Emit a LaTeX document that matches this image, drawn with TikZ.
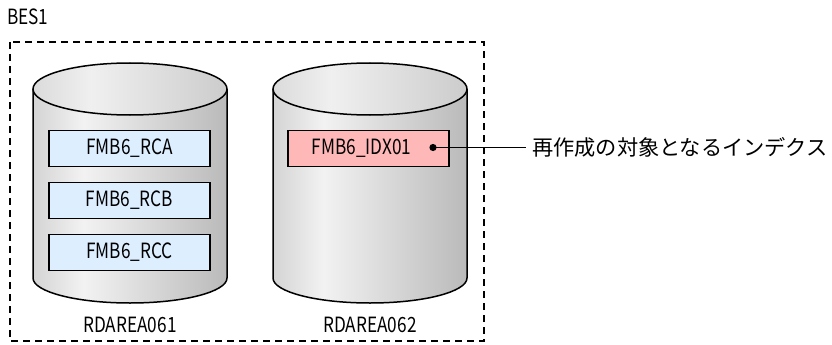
\documentclass[tikz,border=0pt]{standalone}
\usepackage{fontspec}
\setmainfont{Noto Sans CJK JP}
\newfontfamily\latcond[FakeStretch=0.82]{Noto Sans CJK JP}
\pgfdeclarehorizontalshading{cylside}{100bp}{color(0bp)=(black!40); color(38bp)=(black!5); color(100bp)=(black!42)}
\pgfdeclarehorizontalshading{cyltop}{100bp}{color(0bp)=(black!28); color(40bp)=(black!6); color(100bp)=(black!30)}
\definecolor{boxblue}{HTML}{DDEEFF}
\definecolor{boxpink}{HTML}{FFB8B8}
\tikzset{
  lat/.style={font=\latcond\fontsize{21}{21}\selectfont, inner sep=0pt},
  tbox/.style={draw=black, line width=1.5pt, minimum width=161pt, minimum height=36pt, inner sep=0pt, font=\latcond\fontsize{21}{21}\selectfont},
  bluebox/.style={tbox, fill=boxblue},
  pinkbox/.style={tbox, fill=boxpink},
  cylline/.style={draw=black, line width=1.5pt},
  frame/.style={draw=black, line width=1.3pt, dash pattern=on 7pt off 5pt},
}
\newcommand{\mycyl}[1]{%
  \path[shading=cylside] (#1,-89) -- (#1+0,-278) arc[start angle=180,end angle=360,x radius=97pt,y radius=25pt] -- (#1+194,-89) -- cycle;
  \draw[cylline] (#1,-89) -- (#1,-278) arc[start angle=180,end angle=360,x radius=97pt,y radius=25pt] -- (#1+194,-89);
  \draw[cylline, shading=cyltop] (#1+97,-89) ellipse[x radius=97pt, y radius=26pt];
}
\begin{document}
\begin{tikzpicture}[x=1pt,y=1pt]
\useasboundingbox (0,0) rectangle (832,-345);
\node[lat, anchor=west] (bes) at (7,-17) {BES1};
\draw[frame] (10,-42) rectangle (484,-341);
\mycyl{33}
\mycyl{273}
\node[bluebox] (rca) at (129.5,-148.5) {FMB6\_RCA};
\node[bluebox] (rcb) at (129.5,-200.5) {FMB6\_RCB};
\node[bluebox] (rcc) at (129.5,-252.5) {FMB6\_RCC};
\node[pinkbox] (idx) at (368.5,-148.5) {\hspace*{-14pt}FMB6\_IDX01};
\node[lat] (rd1) at (130,-325) {RDAREA061};
\node[lat] (rd2) at (370,-325) {RDAREA062};
\coordinate (dot) at (433,-147.5);
\node[anchor=west, inner sep=0pt, font=\fontsize{21.2}{21.2}\selectfont] (lbl) at (532,-147.5) {再作成の対象となるインデクス};
\draw[line width=1.3pt] (dot) -- ([xshift=-6pt]lbl.west);
\fill (dot) circle[radius=3.6pt];
\end{tikzpicture}
\end{document}
